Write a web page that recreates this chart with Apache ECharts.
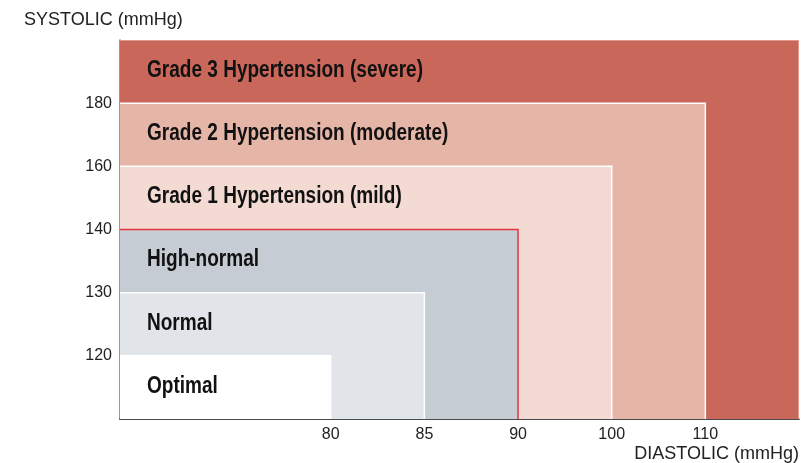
<!DOCTYPE html>
<html>
<head>
<meta charset="utf-8">
<script src="https://cdn.jsdelivr.net/npm/echarts@6/dist/echarts.min.js"></script>
<style>html,body{margin:0;padding:0;background:#fff}#c{width:802px;height:463px}</style>
</head>
<body>
<div id="c"></div>
<script>
// Categories (outermost first)
const categories = ['Grade 3 Hypertension (severe)', 'Grade 2 Hypertension (moderate)', 'Grade 1 Hypertension (mild)', 'High-normal', 'Normal', 'Optimal'];
// Tick labels (evenly spaced, non-linear scale)
const diastolicTicks = ['80', '85', '90', '100', '110'];
const systolicTicks = ['120', '130', '140', '160', '180'];
// Upper bounds of each category ('max' = beyond the last tick)
const diastolicUpper = ['max', '110', '100', '90', '85', '80'];
const systolicUpper = ['max', '180', '160', '140', '130', '120'];
const colors = ['#C9675A', '#E5B5A7', '#F3DBD3', '#C5CCD4', '#E1E5E9', '#FFFFFF'];
const borders = ['#E9A99F', '#FFFFFF', '#FFFFFF', '#E8323E', '#FFFFFF', '#FFFFFF'];

const X_MIN = -2.25, X_MAX = diastolicTicks.length;      // x tick k at position k
const Y_MIN = 0, Y_MAX = systolicTicks.length + 1;        // y tick k at position k+1
const xPos = v => v === 'max' ? X_MAX : diastolicTicks.indexOf(v);
const yPos = v => v === 'max' ? Y_MAX : systolicTicks.indexOf(v) + 1;

const data = categories.map((name, i) => {
  const lower = i < categories.length - 1 ? yPos(systolicUpper[i + 1]) : Y_MIN;
  return [xPos(diastolicUpper[i]), yPos(systolicUpper[i]), lower, i];
});

// condensed look: horizontally squeeze bold sans text
const LABEL_FONT = 'bold 23px "Liberation Sans"';
const ctx = document.createElement('canvas').getContext('2d');
ctx.font = LABEL_FONT;
const squeeze = 276 / ctx.measureText(categories[0]).width;

const chart = echarts.init(document.getElementById('c'), null, {renderer: 'canvas'});
chart.setOption({
  animation: false,
  title: {
    text: 'SYSTOLIC (mmHg)', left: 24, top: 11, padding: 0,
    textStyle: {fontFamily: 'Liberation Sans', fontSize: 18, fontWeight: 'normal', color: '#222'}
  },
  grid: {left: 120, right: 1, top: 40, bottom: 43},
  xAxis: {
    type: 'value', min: X_MIN, max: X_MAX,
    name: 'DIASTOLIC (mmHg)', nameLocation: 'end', nameGap: 0,
    nameTextStyle: {fontFamily: 'Liberation Sans', fontSize: 18, color: '#222', align: 'right', verticalAlign: 'top', padding: [26, 0, 0, 0]},
    axisLine: {show: true, onZero: false, lineStyle: {color: '#111', width: 1.5}},
    axisTick: {show: false},
    splitLine: {show: false},
    axisLabel: {
      customValues: diastolicTicks.map((t, k) => k),
      formatter: v => diastolicTicks[Math.round(v)],
      fontFamily: 'Liberation Sans', fontSize: 16, color: '#222', margin: 8
    }
  },
  yAxis: {
    type: 'value', min: Y_MIN, max: Y_MAX,
    axisLine: {show: true, onZero: false, lineStyle: {color: '#777', width: 1.5}},
    axisTick: {show: false},
    splitLine: {show: false},
    axisLabel: {
      customValues: systolicTicks.map((t, k) => k + 1),
      formatter: v => systolicTicks[Math.round(v) - 1],
      fontFamily: 'Liberation Sans', fontSize: 16, color: '#222', margin: 8
    }
  },
  series: [{
    type: 'custom',
    data: data,
    clip: true,
    renderItem: function (params, api) {
      const i = api.value(3);
      const origin = api.coord([X_MIN, Y_MIN]);
      const corner = api.coord([api.value(0), api.value(1)]);
      const lower = api.coord([X_MIN, api.value(2)]);
      return {
        type: 'group',
        children: [
          {type: 'rect', shape: {x: origin[0], y: corner[1], width: corner[0] - origin[0], height: origin[1] - corner[1]},
           style: {fill: colors[i]}},
          {type: 'polyline', shape: {points: [[origin[0], corner[1]], [corner[0], corner[1]], [corner[0], origin[1]]]},
           style: {stroke: borders[i], lineWidth: 1.5, fill: null}},
          {type: 'text', x: origin[0] + 27, y: (corner[1] + lower[1]) / 2 - 1, scaleX: squeeze,
           style: {text: categories[i], fontFamily: 'Liberation Sans', fontWeight: 'bold', fontSize: 23,
                   fill: '#111', verticalAlign: 'middle', align: 'left'}}
        ]
      };
    }
  }]
});
</script>
</body>
</html>
